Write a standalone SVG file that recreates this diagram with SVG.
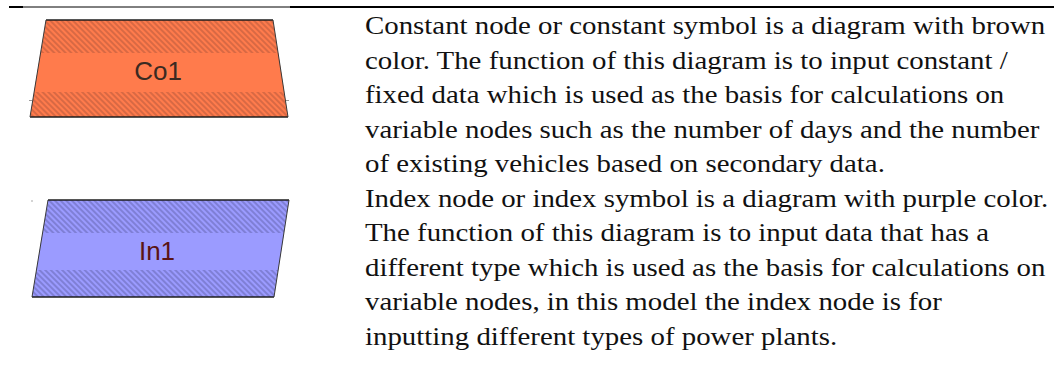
<svg xmlns="http://www.w3.org/2000/svg" width="1054" height="381" viewBox="0 0 1054 381">
  <defs>
    <pattern id="hatch-orange" patternUnits="userSpaceOnUse" width="4" height="4" patternTransform="rotate(-45)">
      <rect width="4" height="4" fill="#FF7B4C"/>
      <line x1="1" y1="0" x2="1" y2="4" stroke="#BE5D3E" stroke-width="1.2"/>
    </pattern>
    <pattern id="hatch-purple" patternUnits="userSpaceOnUse" width="4" height="4" patternTransform="rotate(-45)">
      <rect width="4" height="4" fill="#9B9BFF"/>
      <line x1="1" y1="0" x2="1" y2="4" stroke="#6C6CBA" stroke-width="1.2"/>
    </pattern>
    <clipPath id="clip-co1">
      <polygon points="46,20 273,20 288,117 30,117"/>
    </clipPath>
    <clipPath id="clip-in1">
      <polygon points="48,200 289,200 274,297 32,297"/>
    </clipPath>
  </defs>
  <style>
    .label { font-family: "Liberation Sans", Arial, sans-serif; font-size: 26px; text-anchor: middle; }
    .body { font-family: "Liberation Serif", "Times New Roman", serif; font-size: 26px; fill: #111; }
    .edge-h { stroke: #1e1e1e; stroke-width: 1.6; }
    .edge-v { stroke: #3a3a3a; stroke-width: 1; }
    .tick { stroke: #9a9a9a; stroke-width: 1; }
  </style>

  <!-- table rule along the top -->
  <g id="top-rule">
    <line x1="9" y1="7" x2="23" y2="7" stroke="#000" stroke-width="2"/>
    <line x1="23" y1="7" x2="290" y2="7" stroke="#000" stroke-width="1"/>
    <line x1="290" y1="7" x2="1054" y2="7" stroke="#000" stroke-width="2"/>
  </g>

  <!-- constant node: trapezoid -->
  <g id="node-co1">
    <g clip-path="url(#clip-co1)">
      <rect x="28" y="18" width="262" height="101" fill="url(#hatch-orange)"/>
      <rect x="28" y="53" width="262" height="39" fill="#FF7B4C"/>
    </g>
    <line class="edge-h" x1="46" y1="20" x2="273" y2="20"/>
    <line class="edge-h" x1="30" y1="117" x2="288" y2="117"/>
    <line class="edge-v" x1="46" y1="20" x2="30" y2="117"/>
    <line class="edge-v" x1="273" y1="20" x2="288" y2="117"/>
    <line class="tick" x1="29" y1="100.5" x2="32" y2="100.5"/>
    <line class="tick" x1="286" y1="100.5" x2="289" y2="100.5"/>
    <text class="label" x="158" y="80" fill="#3a2a22">Co1</text>
  </g>

  <!-- index node: parallelogram -->
  <g id="node-in1">
    <g clip-path="url(#clip-in1)">
      <rect x="30" y="198" width="262" height="101" fill="url(#hatch-purple)"/>
      <rect x="30" y="233" width="262" height="37" fill="#9B9BFF"/>
    </g>
    <line class="edge-h" x1="48" y1="200" x2="289" y2="200"/>
    <line class="edge-h" x1="32" y1="297" x2="274" y2="297"/>
    <line class="edge-v" x1="48" y1="200" x2="32" y2="297"/>
    <line class="edge-v" x1="289" y1="200" x2="274" y2="297"/>
    <circle cx="32" cy="201" r="0.7" fill="#888"/>
    <text class="label" x="157" y="260" fill="#5a1414">In1</text>
  </g>

  <!-- description column -->
  <g id="descriptions" transform="translate(365,0) scale(1.11,1)">
    <text class="body" x="0" y="34.5">Constant node or constant symbol is a diagram with brown</text>
    <text class="body" x="0" y="69">color. The function of this diagram is to input constant /</text>
    <text class="body" x="0" y="103.5">fixed data which is used as the basis for calculations on</text>
    <text class="body" x="0" y="138">variable nodes such as the number of days and the number</text>
    <text class="body" x="0" y="172.5">of existing vehicles based on secondary data.</text>
    <text class="body" x="0" y="207">Index node or index symbol is a diagram with purple color.</text>
    <text class="body" x="0" y="241.5">The function of this diagram is to input data that has a</text>
    <text class="body" x="0" y="276">different type which is used as the basis for calculations on</text>
    <text class="body" x="0" y="310.5">variable nodes, in this model the index node is for</text>
    <text class="body" x="0" y="345">inputting different types of power plants.</text>
  </g>
</svg>
